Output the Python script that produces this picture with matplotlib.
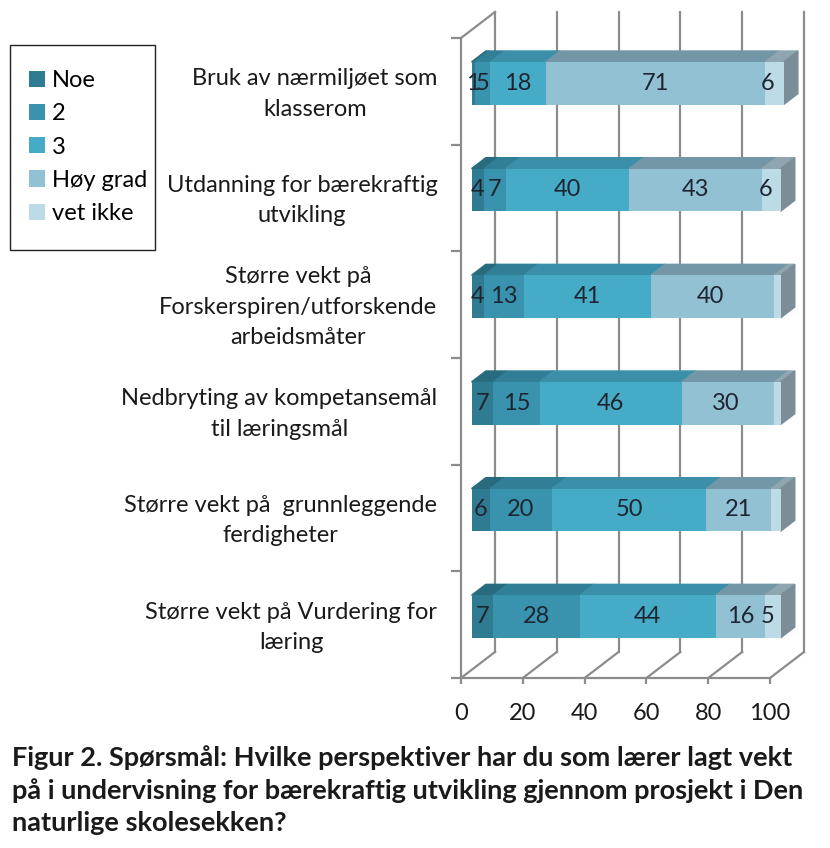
import matplotlib.pyplot as plt
from matplotlib.patches import Patch, Polygon, Rectangle
from matplotlib.transforms import ScaledTranslation

# data (percent)
categories = ['Bruk av nærmiljøet som\nklasserom',
              'Utdanning for bærekraftig\nutvikling',
              'Større vekt på\nForskerspiren/utforskende\narbeidsmåter',
              'Nedbryting av kompetansemål\ntil læringsmål',
              'Større vekt på  grunnleggende\nferdigheter',
              'Større vekt på Vurdering for\nlæring']
series_names = ['Noe', '2', '3', 'Høy grad', 'vet ikke']
noe = [1, 4, 4, 7, 6, 7]
to = [5, 7, 13, 15, 20, 28]
tre = [18, 40, 41, 46, 50, 44]
hoy = [71, 43, 40, 30, 21, 16]
vet = [6, 6, 2, 2, 3, 5]
xticks = [0, 20, 40, 60, 80, 100]

front_cols = ['#2f7b91', '#3993ae', '#46abc7', '#93c1d4', '#bddbe7']
top_cols = ['#296b7e', '#317f97', '#3b8fa8', '#7397a7', '#8fa6b0']
side_col = '#7b8e97'
grid_col = '#8c8c8c'

FONT = 'Lato'
FS = 17

# 3d depth in data units, bar front/back as fraction of depth
DX, DY = 11.0, -0.244
F1, F2 = 0.31, 0.73
H = 0.4

fig = plt.figure(figsize=(8.3, 8.48), dpi=100)
ax = fig.add_axes([461/830, 1-678/848, 309/830, 640/848])
ax.set_xlim(0, 100)
ax.set_ylim(5.5, -0.5)

ys = list(range(len(categories)))
lw = 1.6

# back wall gridlines and floor lines
for v in xticks:
    ax.plot([v+DX, v+DX], [5.5+DY, -0.5+DY], color=grid_col, lw=lw, clip_on=False, zorder=1)
    ax.plot([v, v+DX], [5.5, 5.5+DY], color=grid_col, lw=lw, clip_on=False, zorder=1)
ax.plot([0, DX], [-0.5, -0.5+DY], color=grid_col, lw=lw, clip_on=False, zorder=1)

data = [noe, to, tre, hoy, vet]
lefts = [0]*len(ys)
for i, vals in enumerate(data):
    bars = ax.barh([y + F1*DY for y in ys], vals, left=[l + F1*DX for l in lefts],
                   height=H, color=front_cols[i], clip_on=False, zorder=3)
    ax.bar_label(bars, label_type='center', fontsize=FS, family=FONT, color='#1d2630', zorder=6)
    for j, y in enumerate(ys):
        x0, x1 = lefts[j], lefts[j] + vals[j]
        yt, yb = y - H/2, y + H/2
        ax.add_patch(Polygon([(x0+F1*DX, yt+F1*DY), (x1+F1*DX, yt+F1*DY),
                              (x1+F2*DX, yt+F2*DY), (x0+F2*DX, yt+F2*DY)],
                             closed=True, color=top_cols[i], clip_on=False, zorder=2.9))
        if i == len(data) - 1:
            ax.add_patch(Polygon([(x1+F1*DX, yt+F1*DY), (x1+F2*DX, yt+F2*DY),
                                  (x1+F2*DX, yb+F2*DY), (x1+F1*DX, yb+F1*DY)],
                                 closed=True, color=side_col, clip_on=False, zorder=2.9))
    lefts = [l + v for l, v in zip(lefts, vals)]

# axes
for s in ['top', 'right']:
    ax.spines[s].set_visible(False)
for s in ['left', 'bottom']:
    ax.spines[s].set_color(grid_col)
    ax.spines[s].set_linewidth(lw)
ax.set_xticks(xticks)
ax.set_xticklabels([str(t) for t in xticks], fontsize=FS, family=FONT, color='#1a1a1a')
ax.tick_params(axis='x', length=4, width=lw, color=grid_col, pad=14)
ax.set_yticks(ys)
ax.set_yticklabels(categories, fontsize=FS, family=FONT, color='#1a1a1a', linespacing=1.55)
ax.set_yticks([y - 0.5 for y in ys] + [5.5], minor=True)
ax.tick_params(axis='y', which='major', length=0, pad=17)
ax.tick_params(axis='y', which='minor', length=7, width=lw, color=grid_col)
up = ScaledTranslation(0, 4/100, fig.dpi_scale_trans)
for lab in ax.get_yticklabels():
    lab.set_multialignment('center')
    lab.set_transform(lab.get_transform() + up)
ax.patch.set_visible(False)

# legend
handles = [Patch(facecolor=c, edgecolor='none') for c in front_cols]
fig.legend(handles, series_names, loc='upper left', bbox_to_anchor=(29/830, 1-70/848),
           frameon=False, prop={'family': FONT, 'size': FS}, handlelength=0.68, handleheight=0.68,
           handletextpad=0.28, labelspacing=0.52, borderpad=0, borderaxespad=0)
fig.add_artist(Rectangle((10/830, 1-250/848), 145/830, 205/848, transform=fig.transFigure,
                         fill=False, edgecolor='#222222', lw=1))

caption = ('Figur 2. Spørsmål: Hvilke perspektiver har du som lærer lagt vekt\n'
           'på i undervisning for bærekraftig utvikling gjennom prosjekt i Den\n'
           'naturlige skolesekken?')
fig.text(12/830, 1-745/848, caption, va='top', ha='left', fontsize=19.5, fontweight='bold',
         family=FONT, color='#1a1a1a', linespacing=1.39)

fig.savefig('out.png', dpi=100)
